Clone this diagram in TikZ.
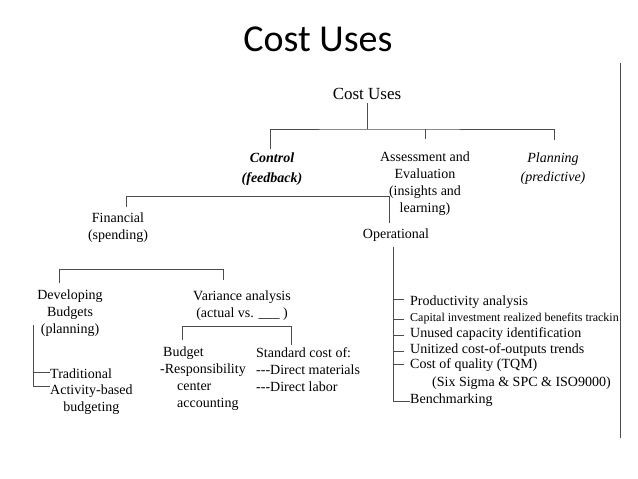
\documentclass[tikz,border=0pt]{standalone}
\usepackage{fontspec}
\setmainfont{Liberation Serif}
\newfontfamily\titlefont{Carlito}
\begin{document}
\begin{tikzpicture}[x=1pt,y=-1pt,
  txt/.style={font=\fontsize{14}{16.7}\selectfont, inner sep=0pt, anchor=base, align=center},
  txl/.style={font=\fontsize{14}{16.7}\selectfont, inner sep=0pt, anchor=base west, align=left},
  ln/.style={line width=1pt, draw=black!70}]
\useasboundingbox[fill=white] (0,0) rectangle (638,479);
% title
\node[font=\titlefont\fontsize{38}{40}\selectfont, inner sep=0pt, anchor=base] (title) at (318,52) {Cost Uses};
% tree nodes (anchor = baseline of the last line)
\node[txt, font=\fontsize{17}{20}\selectfont] (root) at (367,99) {Cost Uses};
\node[txt, font=\fontsize{14}{20}\selectfont\bfseries\itshape] (ctrl) at (272,182) {Control\\(feedback)};
\node[txt] (assess) at (425,212) {Assessment and\\Evaluation\\(insights and\\learning)};
\node[txt, font=\fontsize{14}{19}\selectfont\itshape] (plan) at (553,181) {Planning\\(predictive)};
\node[txt] (fin) at (118,239) {Financial\\(spending)};
\node[txt] (oper) at (396,238) {Operational};
\node[txt] (dev) at (70,333) {Developing\\Budgets\\(planning)};
\node[txt] (var) at (242,317) {Variance analysis\\(actual vs. \_\_\_ )};
\node[txl] (trad) at (50,378) {Traditional};
\node[txl, align=center] (abb) at (50,411) {Activity-based\\budgeting};
\node[txl] (budg) at (160,407) {\hspace*{3pt}Budget\\-Responsibility\\\hspace*{17pt}center\\\hspace*{17pt}accounting};
\node[txl] (std) at (256,391) {Standard cost of:\\-{}-{}-Direct materials\\-{}-{}-Direct labor};
% operational items
\node[txl] (o1) at (410,305) {Productivity analysis};
\node[txl, font=\fontsize{12}{14}\selectfont] (o2) at (410,321) {Capital investment realized benefits trackin};
\node[txl] (o3) at (410,337) {Unused capacity identification};
\node[txl] (o4) at (410,353) {Unitized cost-of-outputs trends};
\node[txl] (o5) at (410,368) {Cost of quality (TQM)};
\node[txl] (o6) at (432,386) {(Six Sigma \& SPC \& ISO9000)};
\node[txl] (o7) at (410,403) {Benchmarking};
% coordinates of connectors
\coordinate (r0) at (367,103);
\coordinate (r1) at (367,129);
\coordinate (c0) at (270,149);
\coordinate (a0) at (425,139);
\coordinate (p0) at (554,140);
\coordinate (f0) at (126,207);
\coordinate (f1) at (126,196);
\coordinate (op0) at (389,223);
\coordinate (ot) at (393,247);
\coordinate (ob) at (393,401);
\coordinate (d0) at (59,283);
\coordinate (d1) at (59,269);
\coordinate (v0) at (223,280);
\coordinate (bt) at (33,325);
\coordinate (bb) at (33,386);
\coordinate (bq) at (33,372);
\coordinate (s0) at (182,340);
\coordinate (s1) at (182,326);
\coordinate (s2) at (291,345);
\coordinate (edgeT) at (620,63);
\coordinate (edgeB) at (620,438);
% connectors
\draw[ln] (r0) -- (r1);
\draw[ln] (c0) |- (r1) -| (p0);
\draw[ln] (a0) -- (a0 |- r1);
\draw[ln] (f0) -- (f1) -| (op0);
\draw[ln] (ot) -- (ob) -- (ob -| o7.west);
\foreach \n/\yy in {o1/299,o2/319,o3/335,o4/351,o5/364}
  \draw[ln] (393,\yy) -- (404,\yy);
\draw[ln] (d0) -- (d1) -| (v0);
\draw[ln] (bt) -- (bb) -- (bb -| abb.west);
\draw[ln] (bq) -- (bq -| trad.west);
\draw[ln] (s0) -- (s1) -| (s2);
\draw[ln] (edgeT) -- (edgeB);
\end{tikzpicture}
\end{document}
